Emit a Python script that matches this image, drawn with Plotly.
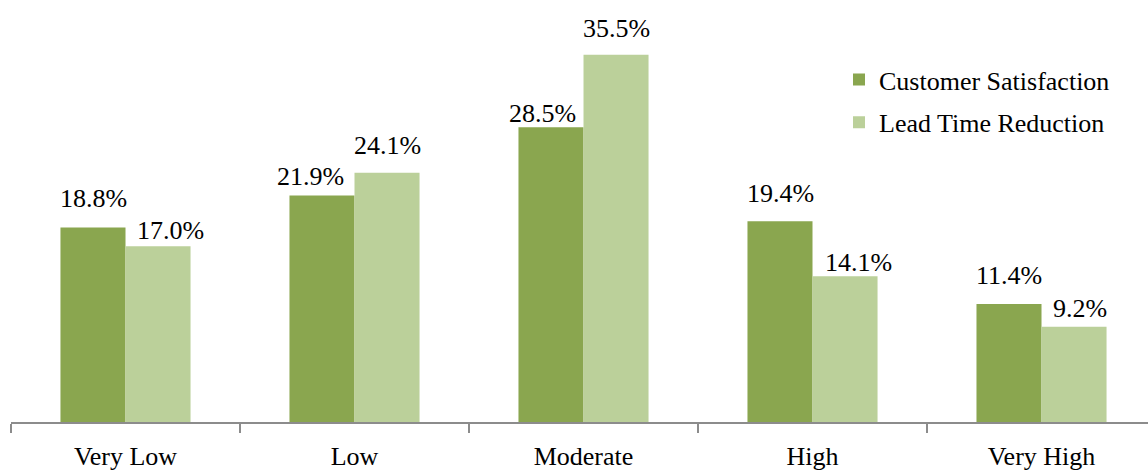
import plotly.graph_objects as go

categories = ["Very Low", "Low", "Moderate", "High", "Very High"]
customer_satisfaction = [18.8, 21.9, 28.5, 19.4, 11.4]
lead_time_reduction = [17.0, 24.1, 35.5, 14.1, 9.2]

# hand-placed label nudges (pixels) so neighbouring labels don't collide
cs_label_dx = [0, -12, -9, 0, 0]
cs_label_gap = [20, 9, 4, 18, 19]
ltr_label_dx = [12, 0, 0, 13, 6]
ltr_label_gap = [6, 18, 17, 4, 9]

dark_green = "#8aa64f"
light_green = "#bbd09a"
font_family = "'Liberation Serif', 'Times New Roman', 'DejaVu Serif', serif"
font_size = 26

fig = go.Figure()
fig.add_trace(go.Bar(
    x=categories, y=customer_satisfaction, name="Customer Satisfaction",
    marker=dict(color=dark_green, line=dict(width=0)),
    legendgroup="a",
))
fig.add_trace(go.Bar(
    x=categories, y=lead_time_reduction, name="Lead Time Reduction",
    marker=dict(color=light_green, line=dict(width=0)),
    legendgroup="b",
))

# value labels above each bar (bars are 65 px wide, side by side)
annotations = []
for series, shift, dxs, gaps in (
    (customer_satisfaction, -32.5, cs_label_dx, cs_label_gap),
    (lead_time_reduction, 32.5, ltr_label_dx, ltr_label_gap),
):
    for cat, v, dx, gap in zip(categories, series, dxs, gaps):
        annotations.append(dict(
            x=cat, y=v, xref="x", yref="y", text=f"{v:.1f}%",
            showarrow=False, xshift=shift + dx, yshift=gap - 7,
            xanchor="center", yanchor="bottom",
            font=dict(family=font_family, size=font_size, color="black"),
        ))

fig.update_layout(
    width=1148, height=472,
    margin=dict(l=11, r=0, t=0, b=50),
    paper_bgcolor="white", plot_bgcolor="white",
    barmode="group", bargap=0.432, bargroupgap=0,
    font=dict(family=font_family, size=font_size, color="black"),
    showlegend=True,
    annotations=annotations,
    legend=dict(
        x=(839 - 11) / 1137, y=0.867, xanchor="left", yanchor="top",
        font=dict(family=font_family, size=font_size, color="black"),
        traceorder="grouped", tracegroupgap=6,
        bgcolor="rgba(0,0,0,0)", itemwidth=30,
    ),
    xaxis=dict(
        type="category", range=[-0.5, 4.465],
        showline=True, linecolor="#8c8c8c", linewidth=1.5,
        ticks="outside", tickson="boundaries", ticklen=9,
        tickcolor="#8c8c8c", tickwidth=1.5,
        ticklabelstandoff=10,
        tickfont=dict(family=font_family, size=font_size, color="black"),
        showgrid=False, zeroline=False,
    ),
    yaxis=dict(
        range=[0, 40.8], visible=False, showgrid=False, zeroline=False,
    ),
)

fig.write_html("out.html")
